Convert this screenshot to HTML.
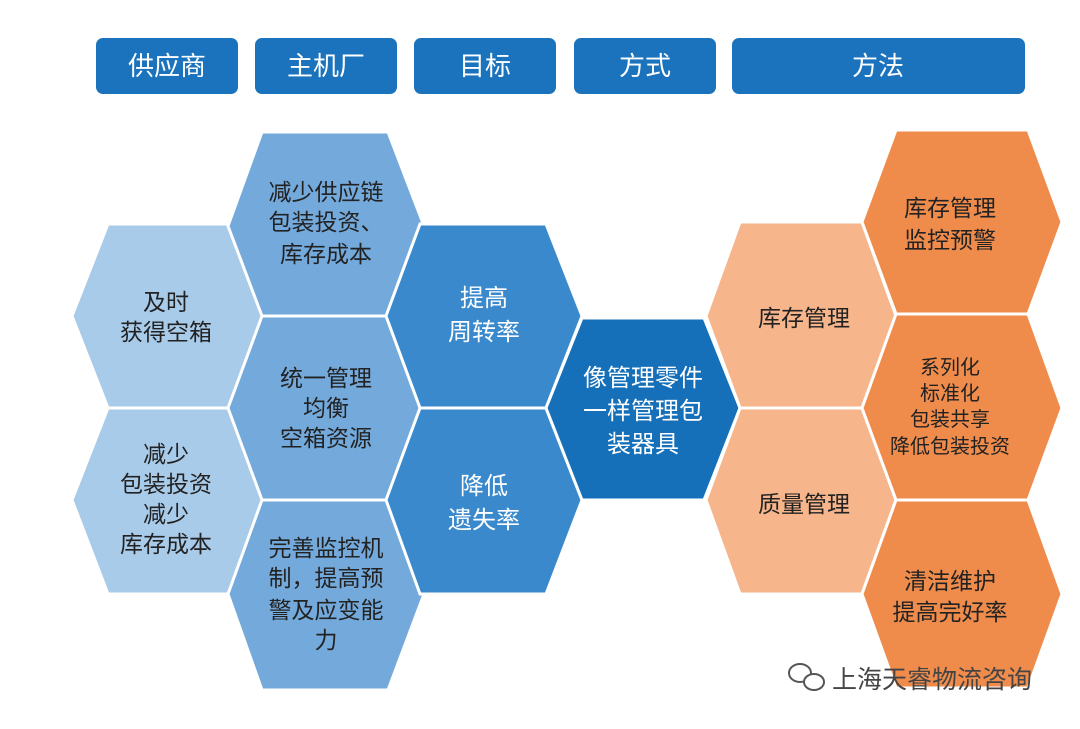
<!DOCTYPE html>
<html><head><meta charset="utf-8"><style>
body{margin:0;background:#fff;}
svg text{font-family:"Liberation Sans","Noto Sans CJK SC",sans-serif;}
</style></head><body>
<svg width="1080" height="724" viewBox="0 0 1080 724" xmlns="http://www.w3.org/2000/svg">
<rect width="1080" height="724" fill="#fff"/>
<g fill="#1b73bd">
<rect x="96" y="38" width="142" height="56" rx="7"/>
<rect x="255" y="38" width="142" height="56" rx="7"/>
<rect x="414" y="38" width="142" height="56" rx="7"/>
<rect x="574" y="38" width="142" height="56" rx="7"/>
<rect x="732" y="38" width="293" height="56" rx="7"/>
</g>
<g fill="#fff" font-size="26" text-anchor="middle">
<text x="167" y="75">供应商</text>
<text x="326" y="75">主机厂</text>
<text x="485" y="75">目标</text>
<text x="645" y="75">方式</text>
<text x="878" y="75">方法</text>
</g>
<g stroke="#fff" stroke-width="3">
<!-- col1 -->
<polygon fill="#a9cbea" points="108,224 232,224 264,316 232,408 108,408 72,316"/>
<polygon fill="#a9cbea" points="108,408 232,408 264,500 232,594 108,594 72,500"/>
<!-- col2 -->
<polygon fill="#74a9dc" points="262,132 388,132 424,226 388,316 262,316 228,226"/>
<polygon fill="#74a9dc" points="262,316 388,316 424,408 388,500 262,500 228,408"/>
<polygon fill="#74a9dc" points="262,500 388,500 424,594 388,690 262,690 228,594"/>
<!-- col3 -->
<polygon fill="#3a89cc" points="420,224 546,224 582,316 546,408 420,408 386,316"/>
<polygon fill="#3a89cc" points="420,408 546,408 582,500 546,594 420,594 386,500"/>
<!-- col4 -->
<polygon fill="#1670b9" points="582,318 704,318 740,408 704,500 582,500 546,408"/>
<!-- col5 -->
<polygon fill="#f7b58b" points="740,222 862,222 896,316 862,408 740,408 706,316"/>
<polygon fill="#f7b58b" points="740,408 862,408 896,500 862,594 740,594 706,500"/>
<!-- col6 -->
<polygon fill="#ef8c4c" points="896,130 1028,130 1062,222 1028,314 896,314 862,222"/>
<polygon fill="#ef8c4c" points="896,314 1028,314 1062,408 1028,500 896,500 862,408"/>
<polygon fill="#ef8c4c" points="896,500 1028,500 1062,594 1028,688 896,688 862,594"/>
</g>
<g fill="#222" font-size="23" text-anchor="middle">
<text x="166" y="310">及时</text><text x="166" y="340">获得空箱</text>
<text x="166" y="462">减少</text><text x="166" y="492">包装投资</text><text x="166" y="522">减少</text><text x="166" y="552">库存成本</text>
<text x="326" y="200">减少供应链</text><text x="326" y="230">包装投资、</text><text x="326" y="262">库存成本</text>
<text x="326" y="386">统一管理</text><text x="326" y="416">均衡</text><text x="326" y="446">空箱资源</text>
<text x="326" y="556">完善监控机</text><text x="326" y="586">制，提高预</text><text x="326" y="618">警及应变能</text><text x="326" y="648">力</text>
<text x="804" y="326">库存管理</text>
<text x="804" y="512">质量管理</text>
<text x="950" y="216">库存管理</text><text x="950" y="248">监控预警</text>
<text x="950" y="589">清洁维护</text><text x="950" y="620">提高完好率</text>
</g>
<g fill="#222" font-size="20" text-anchor="middle">
<text x="950" y="374">系列化</text><text x="950" y="400">标准化</text><text x="950" y="426">包装共享</text><text x="950" y="453">降低包装投资</text>
</g>
<g fill="#fff" font-size="24" text-anchor="middle">
<text x="484" y="306">提高</text><text x="484" y="340">周转率</text>
<text x="484" y="494">降低</text><text x="484" y="528">遗失率</text>
<text x="643" y="386">像管理零件</text><text x="643" y="419">一样管理包</text><text x="643" y="452">装器具</text>
</g>
<g fill="none" stroke="#555" stroke-width="2">
<ellipse cx="800" cy="673" rx="11" ry="9"/>
<ellipse cx="814" cy="682" rx="10" ry="8" fill="#fff"/>
</g>
<text x="832" y="688" font-size="25" fill="#444" style="font-family:'Liberation Sans','Noto Sans CJK SC',sans-serif">上海天睿物流咨询</text>
</svg>
</body></html>
